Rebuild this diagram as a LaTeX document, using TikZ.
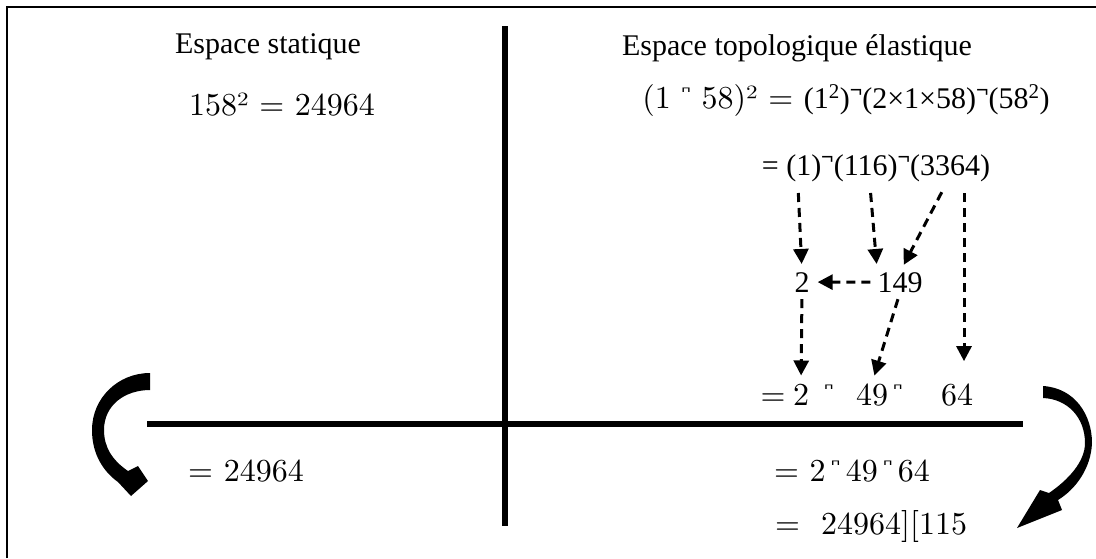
\documentclass[tikz,border=0pt]{standalone}
\usepackage[no-math]{fontspec}
\setmainfont{Liberation Serif}
\newfontfamily\cambr{lmroman10-regular.otf}
\newfontfamily\symfont{DejaVu Sans}
\usetikzlibrary{arrows.meta}

% raised marks between the terms
\newcommand{\capmark}{\raisebox{0.5em}{\scalebox{1}[0.6]{\symfont\bfseries\fontsize{12}{12}\selectfont ⊓}}}
\newcommand{\negmark}{\raisebox{0.36em}{\bfseries\fontsize{22}{22}\selectfont ¬}}

\begin{document}
\begin{tikzpicture}[x=1pt, y=-1pt,
    txt/.style={font=\fontsize{30}{36}\selectfont, inner sep=0pt, anchor=base},
    eqn/.style={font=\cambr\fontsize{32}{38}\selectfont, inner sep=0pt, anchor=base},
    axis/.style={line width=6pt},
    dasharr/.style={line width=3pt, dash pattern=on 9pt off 6pt, -{Triangle[length=15pt,width=15pt]}, shorten <=7pt, shorten >=8pt}
]
\useasboundingbox (0,0) rectangle (1096,558);

% Frame
\draw[line width=1.5pt] (7,558) -- (7,7) -- (1096,7);

% Axes
\draw[axis] (505,26) -- (505,526);
\draw[axis] (147,424) -- (1023,424);

% Headings
\node[txt] (stat) at (268,53) {Espace statique};
\node[txt] (topo) at (797,55) {Espace topologique élastique};

% Static side
\node[eqn] (sq) at (282,115) {158²~=~24964};
\node[eqn] (res) at (246,481) {=~24964};

% Elastic side
\node[txt] (expand) at (846,108) {{\cambr\fontsize{32}{38}\selectfont (1~\capmark~58)²~=~}(1\textsuperscript{2})\negmark(2×1×58)\negmark(58\textsuperscript{2})};
\node[txt] (terms) at (876,175) {= (1)\negmark(116)\negmark(3364)};
\node[txt] (two) at (802,292) {2};
\node[txt] (n149) at (900,292) {149};

% Digit row
\node[eqn] (req) at (773,405) {=};
\node[eqn] (r2) at (801,405) {2};
\node[eqn] (rt1) at (829,405) {\capmark};
\node[eqn] (r49) at (872,405) {49};
\node[eqn] (rt2) at (898,405) {\capmark};
\node[eqn] (r64) at (957,405) {64};

\node[eqn] (sum) at (852,481) {=~2\,\capmark\,49\,\capmark\,64};
\node[eqn] (final) at (871,534) {=~~24964][115};

% Start points under the terms
\coordinate (c1) at (798,186);
\coordinate (c116) at (870,186);
\coordinate (c3364) at (945,186);
\coordinate (c64) at (964,186);

% Arrows
\draw[dasharr] (c1) -- (two.north);
\draw[dasharr] (c116) -- (n149.north west);
\draw[dasharr] (c3364) -- (n149.north);
\draw[dasharr, shorten >=22pt] (c64) -- (c64 |- r64.north);
\draw[dasharr] (n149.west) -- (two.east);
\draw[dasharr] (two.south) -- (r2.north);
\draw[dasharr] (n149.south) -- (r49.north);

% Curved arrows
\fill (150,373) .. controls (118,373) and (92,398) .. (92,430)
  .. controls (92,455) and (104,472) .. (118,482)
  -- (131,496) -- (148,481) -- (138,466) -- (128,471)
  .. controls (112,460) and (104,447) .. (104,430)
  .. controls (104,405) and (125,390) .. (150,390) -- cycle;
\fill (1043,386) .. controls (1075,388) and (1092,415) .. (1092,443)
  .. controls (1091,468) and (1076,489) .. (1058,500)
  -- (1062,510) -- (1017,528) -- (1040,490) -- (1049,493)
  .. controls (1068,480) and (1085,462) .. (1085,443)
  .. controls (1085,418) and (1068,399) .. (1043,398) -- cycle;

\end{tikzpicture}
\end{document}
